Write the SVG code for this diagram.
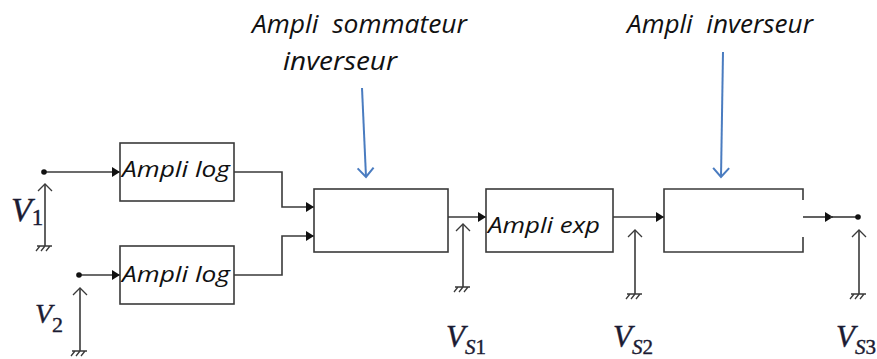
<svg xmlns="http://www.w3.org/2000/svg" width="877" height="359" viewBox="0 0 877 359">
<style>
.box{fill:#fff;stroke:#3a3a3a;stroke-width:1.6}
.wire{fill:none;stroke:#3a3a3a;stroke-width:1.6}
.lbl{font-family:"Open Sans","Noto Sans",sans-serif;font-style:italic;fill:#111}
.math{font-family:"Liberation Serif",serif;font-style:italic;fill:#1b1b33;stroke:#1b1b33;stroke-width:0.4}
.blue{fill:none;stroke:#4a7cc0;stroke-width:2}
.gnd{fill:none;stroke:#3a3a3a;stroke-width:1.3}
</style>
<defs>
<marker id="ah" markerWidth="10" markerHeight="10" refX="8" refY="5" orient="auto" markerUnits="userSpaceOnUse">
<path d="M0,0 L8,5 L0,10 Z" fill="#111"/>
</marker>
<marker id="open" markerWidth="16" markerHeight="16" refX="8" refY="8" orient="auto" markerUnits="userSpaceOnUse">
<path d="M1,1 L8,8 L1,15" fill="none" stroke="#3a3a3a" stroke-width="1.3"/>
</marker>
<marker id="openb" markerWidth="20" markerHeight="20" refX="10" refY="10" orient="auto" markerUnits="userSpaceOnUse">
<path d="M1,2 L10,10 L1,18" fill="none" stroke="#4a7cc0" stroke-width="2"/>
</marker>
<g id="ground">
<path d="M-8,0 H7 M-5,0 L-9,5 M0,0 L-4,5 M5,0 L1,5"/>
</g>
</defs>

<g id="connectors">
<path class="wire" d="M44,172 H120" marker-end="url(#ah)"/>
<path class="wire" d="M79,275 H120" marker-end="url(#ah)"/>
<path class="wire" d="M234,172 H282 V207 H314" marker-end="url(#ah)"/>
<path class="wire" d="M234,275 H282 V236 H314" marker-end="url(#ah)"/>
<path class="wire" d="M448,217 H486" marker-end="url(#ah)"/>
<path class="wire" d="M613,217 H664" marker-end="url(#ah)"/>
<path class="wire" d="M803,217 H833" marker-end="url(#ah)"/>
<path class="wire" d="M830,217 H858"/>
<circle cx="44" cy="172" r="2.8" fill="#111"/>
<circle cx="79" cy="275" r="2.8" fill="#111"/>
<circle cx="858" cy="217" r="2.8" fill="#111"/>
<path class="blue" d="M362,88 L366,177" marker-end="url(#openb)"/>
<path class="blue" d="M723,52 L721,177" marker-end="url(#openb)"/>
</g>

<g id="voltage-arrows">
<path class="wire" d="M45,246 V184" marker-end="url(#open)"/>
<use href="#ground" class="gnd" x="45" y="246"/>
<path class="wire" d="M80,351 V288" marker-end="url(#open)"/>
<use href="#ground" class="gnd" x="80" y="351"/>
<path class="wire" d="M463,287 V224" marker-end="url(#open)"/>
<use href="#ground" class="gnd" x="463" y="287"/>
<path class="wire" d="M635,294 V230" marker-end="url(#open)"/>
<use href="#ground" class="gnd" x="635" y="294"/>
<path class="wire" d="M859,294 V230" marker-end="url(#open)"/>
<use href="#ground" class="gnd" x="859" y="294"/>
</g>

<g id="log1">
<rect class="box" x="120" y="143" width="114" height="58"/>
<text class="lbl" x="122" y="177" font-size="21" textLength="108" lengthAdjust="spacingAndGlyphs">Ampli log</text>
</g>
<g id="log2">
<rect class="box" x="120" y="246" width="114" height="58"/>
<text class="lbl" x="122" y="282" font-size="21" textLength="108" lengthAdjust="spacingAndGlyphs">Ampli log</text>
</g>
<g id="summer">
<rect class="box" x="314" y="189" width="134" height="63"/>
</g>
<g id="exp">
<rect class="box" x="486" y="189" width="127" height="63"/>
<text class="lbl" x="488" y="233" font-size="21" textLength="112" lengthAdjust="spacingAndGlyphs">Ampli exp</text>
</g>
<g id="inverter">
<path class="box" d="M803,200 V189 H664 V252 H803 V237"/>
</g>

<g id="labels">
<text class="lbl" x="252" y="33" font-size="25" textLength="215" lengthAdjust="spacingAndGlyphs" xml:space="preserve">Ampli  sommateur</text>
<text class="lbl" x="283" y="70" font-size="25" textLength="114" lengthAdjust="spacingAndGlyphs">inverseur</text>
<text class="lbl" x="627" y="33" font-size="25" textLength="186" lengthAdjust="spacingAndGlyphs" xml:space="preserve">Ampli  inverseur</text>
<text class="math" x="11" y="221" font-size="34">V<tspan font-size="23" font-style="normal" dy="4">1</tspan></text>
<text class="math" x="35" y="323" font-size="28">V<tspan font-size="22" font-style="normal" dy="9">2</tspan></text>
<text class="math" x="446" y="347" font-size="31">V<tspan font-size="21" dy="7">S</tspan><tspan font-size="21" font-style="normal">1</tspan></text>
<text class="math" x="613" y="347" font-size="31">V<tspan font-size="21" dy="7">S</tspan><tspan font-size="21" font-style="normal">2</tspan></text>
<text class="math" x="836" y="347" font-size="31">V<tspan font-size="21" dy="7">S</tspan><tspan font-size="21" font-style="normal">3</tspan></text>
</g>
</svg>
